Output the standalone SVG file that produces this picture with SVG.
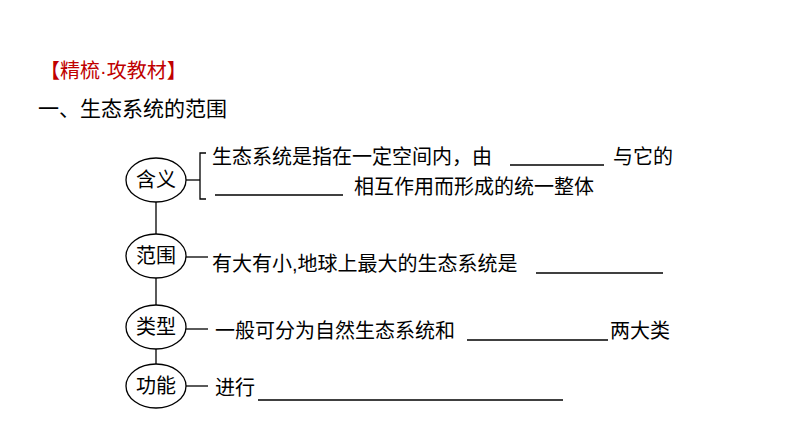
<svg xmlns="http://www.w3.org/2000/svg" width="794" height="446" viewBox="0 0 794 446">
<style>
text{font-family:"Liberation Sans","Noto Sans CJK SC",sans-serif;font-size:20px;fill:#000}
.n ellipse{fill:#fff;stroke:#000;stroke-width:1.3}
.c line,.c path{stroke:#000;stroke-width:1.3;fill:none}
</style>
<rect width="794" height="446" fill="#fff"/>
<text x="40" y="78" style="fill:#c00000;font-size:20px">【精梳·攻教材】</text>
<text x="38" y="116" style="font-size:21px">一、生态系统的范围</text>
<g class="c" id="connectors">
<line x1="156" y1="202" x2="156" y2="234"/>
<line x1="156" y1="278" x2="156" y2="305"/>
<line x1="156" y1="349" x2="156" y2="364"/>
<line x1="186" y1="180" x2="200" y2="180"/>
<path d="M206 153 H200 V199 H206"/>
<line x1="186" y1="257" x2="208" y2="257"/>
<line x1="186" y1="329" x2="208" y2="329"/>
<line x1="186" y1="386" x2="208" y2="386"/>
<line x1="510" y1="165" x2="604" y2="165"/>
<line x1="215" y1="195" x2="343" y2="195"/>
<line x1="536" y1="273" x2="663" y2="273"/>
<line x1="467" y1="340" x2="608" y2="340"/>
<line x1="258" y1="400" x2="563" y2="400"/>
</g>
<g class="n" id="n1"><ellipse cx="156" cy="180" rx="30" ry="22"/><text x="156" y="187" text-anchor="middle">含义</text></g>
<g class="n" id="n2"><ellipse cx="156" cy="256" rx="30" ry="22"/><text x="156" y="263" text-anchor="middle">范围</text></g>
<g class="n" id="n3"><ellipse cx="156" cy="327" rx="30" ry="22"/><text x="156" y="334" text-anchor="middle">类型</text></g>
<g class="n" id="n4"><ellipse cx="156" cy="386" rx="30" ry="22"/><text x="156" y="393" text-anchor="middle">功能</text></g>
<text x="212" y="164">生态系统是指在一定空间内，由</text>
<text x="613" y="164">与它的</text>
<text x="354" y="194">相互作用而形成的统一整体</text>
<text x="212" y="271">有大有小,地球上最大的生态系统是</text>
<text x="215" y="338">一般可分为自然生态系统和</text>
<text x="610" y="338">两大类</text>
<text x="215" y="395">进行</text>
</svg>
